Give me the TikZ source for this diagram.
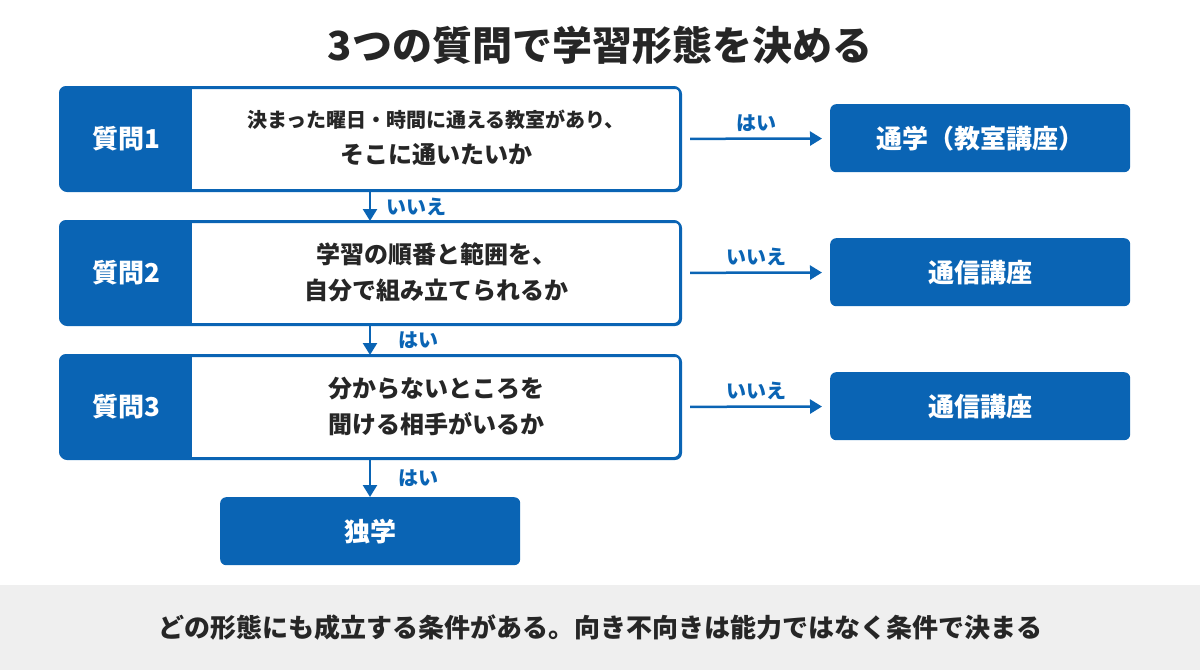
\documentclass[tikz,border=0pt]{standalone}
\usepackage{fontspec}
\setmainfont{Noto Sans CJK JP}
\usepackage{xcolor}
\usetikzlibrary{arrows.meta, positioning}
\definecolor{mainblue}{HTML}{0A64B4}
\definecolor{bandgray}{HTML}{EFEFEF}

\begin{document}
\begin{tikzpicture}[
    x=1pt, y=-1pt,
    qbox/.style={rectangle, rounded corners=6pt, draw=mainblue, line width=2pt, fill=white, minimum width=620pt, minimum height=103pt, anchor=north west},
    tag/.style={rectangle, fill=mainblue, minimum width=132pt, minimum height=103pt, anchor=north west, text=white, font=\fontsize{26}{30}\selectfont\bfseries},
    answer/.style={rectangle, rounded corners=6pt, fill=mainblue, minimum width=300pt, minimum height=68pt, anchor=north west, text=white, font=\fontsize{26}{30}\selectfont\bfseries},
    qtext/.style={align=center, font=\fontsize{24}{36}\selectfont\bfseries, text=black!85},
    lbl/.style={font=\fontsize{20}{24}\selectfont\bfseries, text=mainblue},
    arrow/.style={-{Triangle[length=12pt, width=14pt]}, line width=2.5pt, mainblue}
]
\useasboundingbox (0,0) rectangle (1200,670);

% Title
\node[font=\fontsize{40}{46}\selectfont\bfseries, text=black!85] (title) at (600,45) {3つの質問で学習形態を決める};

% Questions
\foreach \i/\y in {1/87, 2/221, 3/355} {
  \node[qbox] (q\i) at (60,\y) {};
  \begin{scope}
    \clip[rounded corners=6pt] (60,\y) rectangle (680,\y+103);
    \node[tag] (tag\i) at (60,\y) {質問\i};
  \end{scope}
  \draw[mainblue, line width=2pt, rounded corners=6pt] (60,\y) rectangle (680,\y+103);
}
\node[qtext] (t1) at (436,138) {{\fontsize{20}{26}\selectfont 決まった曜日・時間に通える教室があり、}\\そこに通いたいか};
\node[qtext] (t2) at (436,272) {学習の順番と範囲を、\\自分で組み立てられるか};
\node[qtext] (t3) at (436,406) {分からないところを\\聞ける相手がいるか};

% Answers
\node[answer] (a1) at (830,104) {通学（教室講座）};
\node[answer] (a2) at (830,238) {通信講座};
\node[answer] (a3) at (830,372) {通信講座};
\node[answer] (self) at (220,497) {独学};

% Arrows
\draw[arrow, shorten <=8pt, shorten >=8pt] (q1) -- node[lbl, above=2pt] {はい} (a1);
\draw[arrow, shorten <=8pt, shorten >=8pt] (q2) -- node[lbl, above=2pt] {いいえ} (a2);
\draw[arrow, shorten <=8pt, shorten >=8pt] (q3) -- node[lbl, above=2pt] {いいえ} (a3);
\draw[arrow] ([xshift=310pt]q1.south west) -- node[lbl, right=12pt] {いいえ} ([xshift=310pt]q2.north west);
\draw[arrow] ([xshift=310pt]q2.south west) -- node[lbl, right=24pt] {はい} ([xshift=310pt]q3.north west);
\draw[arrow] ([xshift=310pt]q3.south west) -- node[lbl, right=24pt] {はい} ([xshift=150pt]self.north west);

% Bottom band
\fill[bandgray] (0,585) rectangle (1200,670);
\node[font=\fontsize{26}{30}\selectfont\bfseries, text=black!85] (note) at (600,628) {どの形態にも成立する条件がある。向き不向きは能力ではなく条件で決まる};
\end{tikzpicture}
\end{document}
